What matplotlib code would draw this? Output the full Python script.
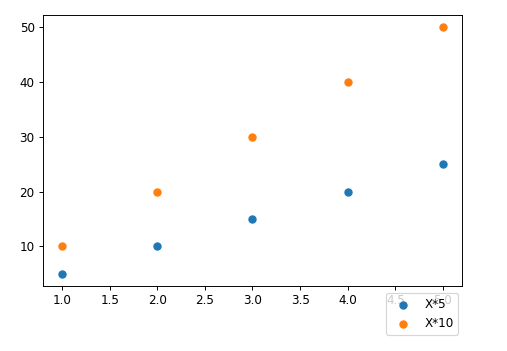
import numpy as np
import matplotlib
matplotlib.use('Agg')
import matplotlib.pyplot as plt

x = [1, 2, 3, 4, 5]
y5 = [5, 10, 15, 20, 25]
y10 = [10, 20, 30, 40, 50]

W, H = 507, 351
DPI = 86
fig = plt.figure(figsize=(W / DPI, H / DPI), dpi=DPI)
ax = fig.add_axes([43 / W, 1 - 286 / H, (462 - 43) / W, (286 - 15) / H])

ax.scatter(x, y5, label='X*5')
ax.scatter(x, y10, label='X*10')

ax.legend(loc='upper left', bbox_to_anchor=(386 / W, 1 - 293 / H),
          bbox_transform=fig.transFigure, borderaxespad=0)

fig.savefig('out.png', dpi=DPI)
